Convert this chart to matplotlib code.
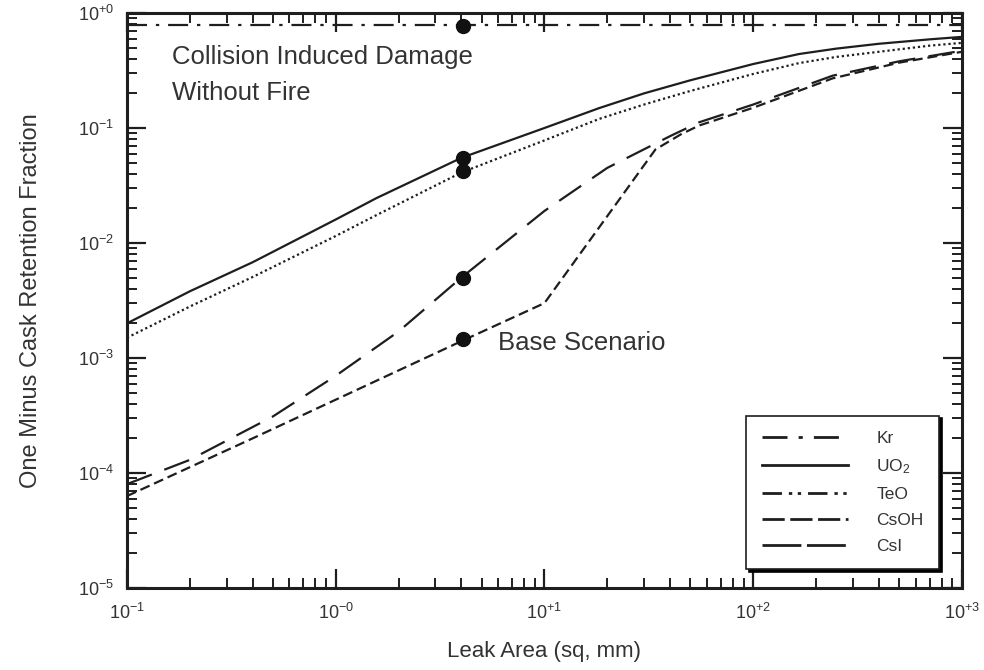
import matplotlib
matplotlib.use("Agg")
import matplotlib.pyplot as plt
from matplotlib.lines import Line2D
from matplotlib.ticker import FixedLocator, FixedFormatter, LogLocator, NullFormatter

plt.rcParams['font.family'] = ['Liberation Sans', 'DejaVu Sans']
plt.rcParams['mathtext.fontset'] = 'custom'
plt.rcParams['mathtext.rm'] = 'Liberation Sans'
plt.rcParams['mathtext.it'] = 'Liberation Sans:italic'

# ---- data ----
kr_x = [0.1, 1000]
kr_y = [0.79, 0.79]

uo2_x = [0.1, 0.2, 0.4, 1, 1.57, 4, 10, 18.3, 30, 50, 100, 166, 250, 400, 700, 1000]
uo2_y = [2.0e-3, 3.8e-3, 6.8e-3, 0.016, 0.0246, 0.055, 0.10, 0.149, 0.20, 0.26, 0.36, 0.44, 0.49, 0.54, 0.59, 0.62]

teo_x = [0.1, 0.2, 0.4, 1, 1.57, 4, 10, 18.3, 30, 50, 100, 166, 250, 400, 700, 1000]
teo_y = [1.5e-3, 2.8e-3, 5.06e-3, 0.0115, 0.0175, 0.041, 0.078, 0.12, 0.16, 0.21, 0.295, 0.367, 0.415, 0.46, 0.52, 0.55]

csoh_x = [0.1, 0.4, 4, 10, 34, 45, 55, 100, 240, 500, 1000]
csoh_y = [6.3e-5, 2.0e-4, 1.4e-3, 3.0e-3, 0.065, 0.088, 0.105, 0.15, 0.27, 0.37, 0.46]

csi_x = [0.1, 0.2, 0.5, 1, 2, 4, 10, 20, 40, 55, 100, 240, 500, 1000]
csi_y = [8e-5, 1.3e-4, 3.1e-4, 7e-4, 1.7e-3, 5.0e-3, 0.019, 0.045, 0.085, 0.112, 0.16, 0.285, 0.38, 0.47]

base_x = [4.05, 4.05, 4.05, 4.05, 4.05]
base_y = [0.77, 0.055, 0.042, 5.0e-3, 1.45e-3]

x_ticks = [1e-1, 1e0, 1e1, 1e2, 1e3]
x_ticklabels = [r'$\mathregular{10^{-1}}$', r'$\mathregular{10^{-0}}$', r'$\mathregular{10^{+1}}$',
                r'$\mathregular{10^{+2}}$', r'$\mathregular{10^{+3}}$']
y_ticks = [1e-5, 1e-4, 1e-3, 1e-2, 1e-1, 1e0]
y_ticklabels = [r'$\mathregular{10^{-5}}$', r'$\mathregular{10^{-4}}$', r'$\mathregular{10^{-3}}$',
                r'$\mathregular{10^{-2}}$', r'$\mathregular{10^{-1}}$', r'$\mathregular{10^{+0}}$']

labels = ['Kr', r'UO$_2$', 'TeO', 'CsOH', 'CsI']

# ---- styles ----
lc = '#1e1e1e'
lw = 1.6
kr_ls = (0, (9, 4, 1.5, 4))
uo2_ls = '-'
teo_ls_plot = (0, (1, 1.3))
teo_ls_leg = (0, (7, 2.5, 1.2, 2, 1.2, 2.5))
csoh_ls = (0, (4.5, 2.2))
csi_ls = (0, (12, 6))

fig = plt.figure(figsize=(9.84, 6.70), dpi=100)
ax = fig.add_axes([0.129, 0.1224, 0.8486, 0.8582])

ax.plot(kr_x, kr_y, color=lc, lw=lw, ls=kr_ls)
ax.plot(uo2_x, uo2_y, color=lc, lw=lw, ls=uo2_ls)
ax.plot(teo_x, teo_y, color=lc, lw=lw, ls=teo_ls_plot)
ax.plot(csoh_x, csoh_y, color=lc, lw=lw, ls=csoh_ls)
ax.plot(csi_x, csi_y, color=lc, lw=lw, ls=csi_ls)
ax.plot(base_x, base_y, 'o', color='#111111', ms=10, ls='none', zorder=5)

ax.set_xscale('log')
ax.set_yscale('log')
ax.set_xlim(0.1, 1000)
ax.set_ylim(1e-5, 1)

ax.xaxis.set_major_locator(FixedLocator(x_ticks))
ax.xaxis.set_major_formatter(FixedFormatter(x_ticklabels))
ax.yaxis.set_major_locator(FixedLocator(y_ticks))
ax.yaxis.set_major_formatter(FixedFormatter(y_ticklabels))
ax.xaxis.set_minor_locator(LogLocator(base=10, subs=range(2, 10), numticks=20))
ax.yaxis.set_minor_locator(LogLocator(base=10, subs=range(2, 10), numticks=20))
ax.xaxis.set_minor_formatter(NullFormatter())
ax.yaxis.set_minor_formatter(NullFormatter())

ax.tick_params(which='both', direction='in', top=True, right=True, color=lc)
ax.tick_params(which='major', length=14, width=1.6, labelsize=13, labelcolor='#333333')
ax.tick_params(which='minor', length=7, width=1.4)
ax.tick_params(axis='x', which='major', pad=11)
ax.tick_params(axis='y', which='major', pad=9)
for s in ax.spines.values():
    s.set_linewidth(2.2)
    s.set_color(lc)

ax.set_xlabel('Leak Area (sq, mm)', fontsize=16, color='#333333', labelpad=13)
ax.set_ylabel('One Minus Cask Retention Fraction', fontsize=17, color='#333333', labelpad=26)

ax.text(0.054, 0.923, 'Collision Induced Damage', transform=ax.transAxes,
        fontsize=18.5, color='#333333', va='center', ha='left')
ax.text(0.054, 0.861, 'Without Fire', transform=ax.transAxes,
        fontsize=18.5, color='#333333', va='center', ha='left')
ax.text(0.444, 0.426, 'Base Scenario', transform=ax.transAxes,
        fontsize=18.5, color='#333333', va='center', ha='left')

handles = [Line2D([], [], color=lc, lw=2, ls=kr_ls),
           Line2D([], [], color=lc, lw=2, ls=uo2_ls),
           Line2D([], [], color=lc, lw=2, ls=teo_ls_leg),
           Line2D([], [], color=lc, lw=2, ls=(0, (8, 2))),
           Line2D([], [], color=lc, lw=2, ls=(0, (14, 2)))]
leg = ax.legend(handles, labels, loc='lower right', bbox_to_anchor=(0.983, 0.0174),
                fontsize=12.5, handlelength=5.0, handletextpad=1.6, labelspacing=0.62,
                borderpad=0.9, borderaxespad=0.5, fancybox=False, framealpha=1, edgecolor=lc,
                shadow={'color': 'black', 'alpha': 1})
leg.get_frame().set_linewidth(1.2)
for t in leg.get_texts():
    t.set_color('#333333')

fig.savefig('out.png', dpi=100)
